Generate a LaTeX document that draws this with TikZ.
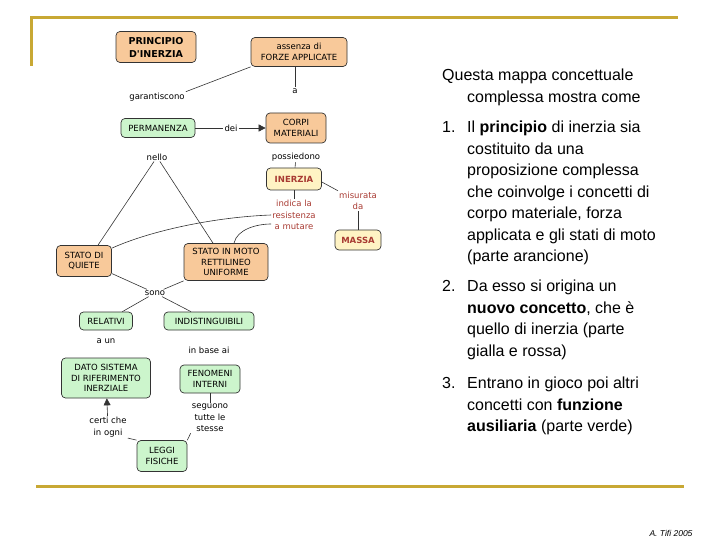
\documentclass[tikz,border=0pt]{standalone}
\usepackage{fontspec}
\setmainfont{Liberation Sans}
\newfontfamily\mapfont{DejaVu Sans}
\usetikzlibrary{arrows.meta}
\definecolor{Gold}{HTML}{C8A834}
\definecolor{Peach}{HTML}{F8C99A}
\definecolor{Mint}{HTML}{CCF5CC}
\definecolor{Cream}{HTML}{FFF3C4}
\definecolor{Edge}{HTML}{333333}
\definecolor{Brick}{HTML}{A83A32}

\begin{document}
\begin{tikzpicture}[x=1pt,y=-1pt,>={Triangle[length=7pt,width=7pt]},
    prinbox/.style={draw=Edge,fill=Peach,line width=.7pt,rounded corners=4pt,align=center,inner sep=1pt,font=\mapfont\fontsize{8.5}{10.5}\selectfont},
    ausbox/.style={prinbox,fill=Mint},
    inbox/.style={prinbox,fill=Cream,text=Brick,font=\mapfont\bfseries\fontsize{8.5}{10}\selectfont},
    link/.style={align=center,inner sep=1pt,font=\mapfont\fontsize{8.5}{11.5}\selectfont},
    wire/.style={draw=Edge,line width=.6pt},
    para/.style={anchor=north west,inner sep=0pt,align=left,font=\fontsize{16}{21.5}\selectfont}]
    \useasboundingbox (0,0) rectangle (720,540);
    \draw[Gold,line width=3pt] (31,66) -- (31,18) -- (678,18);
    \draw[Gold,line width=3pt] (36,486) -- (684,486);
    % parte arancione
    \node[prinbox,minimum width=80,minimum height=31,font=\mapfont\bfseries\fontsize{9.5}{13}\selectfont] (prin) at (156,47) {PRINCIPIO\\D'INERZIA};
    \node[prinbox,minimum width=96,minimum height=29] (forze) at (299,52) {assenza di\\FORZE APPLICATE};
    \node[link] (garant) at (157,97) {garantiscono};
    \node[link] (la) at (295,91) {a};
    \node[ausbox,minimum width=74,minimum height=19] (perm) at (158,128) {PERMANENZA};
    \node[link] (dei) at (231,128) {dei};
    \node[prinbox,minimum width=60,minimum height=30] (corpi) at (296,128) {CORPI\\MATERIALI};
    \node[link] (nello) at (157,157) {nello};
    \node[prinbox,minimum width=55,minimum height=31] (quiete) at (84,261) {STATO DI\\QUIETE};
    \node[prinbox,minimum width=84,minimum height=37] (moto) at (226,262) {STATO IN MOTO\\RETTILINEO\\UNIFORME};
    % parte gialla e rossa
    \node[link] (poss) at (296,157) {possiedono};
    \node[inbox,minimum width=55,minimum height=22] (inerzia) at (294,179) {INERZIA};
    \node[link,text=Brick] (indica) at (294,215) {indica la\\resistenza\\a mutare};
    \node[link,text=Brick] (misur) at (358,201) {misurata\\da};
    \node[inbox,minimum width=46,minimum height=20] (massa) at (358,240) {MASSA};
    % parte verde
    \node[link] (sono) at (155,293) {sono};
    \node[ausbox,minimum width=53,minimum height=18] (relat) at (106,321) {RELATIVI};
    \node[ausbox,minimum width=90,minimum height=18] (indist) at (209,321) {INDISTINGUIBILI};
    \node[link] (aun) at (106,341) {a un};
    \node[link] (base) at (209,350) {in base ai};
    \node[ausbox,minimum width=89,minimum height=40] (dato) at (106,378) {DATO SISTEMA\\DI RIFERIMENTO\\INERZIALE};
    \node[ausbox,minimum width=60,minimum height=28] (fenom) at (210,379) {FENOMENI\\INTERNI};
    \node[link] (segu) at (210,418) {seguono\\tutte le\\stesse};
    \node[link] (certi) at (108,427) {certi che\\in ogni};
    \node[ausbox,minimum width=50,minimum height=31] (leggi) at (162,456) {LEGGI\\FISICHE};
    % collegamenti
    \draw[wire] (forze.south west) -- (garant.north east);
    \draw[wire] (forze.south -| la) -- (la);
    \draw[wire] (perm) -- (dei);
    \draw[wire,->] (dei) -- (corpi);
    \draw[wire] (poss) -- (inerzia);
    \draw[wire] (inerzia) -- (indica);
    \draw[wire] ([yshift=-3pt]inerzia.east) -- (misur.north west);
    \draw[wire] (misur) -- (massa);
    \draw[wire] (nello) -- ([xshift=14pt]quiete.north);
    \draw[wire] (nello) -- ([xshift=-13pt]moto.north);
    \draw[wire] ([yshift=-3pt]quiete.north east) .. controls +(40,-18) and +(-55,2) .. (indica.west);
    \draw[wire] ([xshift=8pt]moto.north) .. controls +(3,-14) and +(-14,0) .. ([yshift=-9pt]indica.west);
    \draw[wire] (quiete) -- (sono);
    \draw[wire] (moto.south west) -- (sono);
    \draw[wire] (sono) -- (relat);
    \draw[wire] (sono) -- (indist);
    \draw[wire] (fenom) -- (segu);
    \draw[wire] (segu.south west) -- (leggi.north east);
    \draw[wire] (leggi.north west) -- (certi.south east);
    \draw[wire,->] (certi) -- (dato);
    % testo a destra
    \node[para] (intro) at (442,69) {Questa mappa concettuale\\\hspace*{25pt}complessa mostra come};
    \node[para] (n1) at (442,121) {1.};
    \node[para] (p1) at (467,121) {Il \textbf{principio} di inerzia sia\\costituito da una\\proposizione complessa\\che coinvolge i concetti di\\corpo materiale, forza\\applicata e gli stati di moto\\(parte arancione)};
    \node[para] (n2) at (442,280) {2.};
    \node[para] (p2) at (467,280) {Da esso si origina un\\\textbf{nuovo concetto}, che è\\quello di inerzia (parte\\gialla e rossa)};
    \node[para] (n3) at (442,377) {3.};
    \node[para] (p3) at (467,377) {Entrano in gioco poi altri\\concetti con \textbf{funzione}\\\textbf{ausiliaria} (parte verde)};
    \node[font=\itshape\fontsize{8.5}{10}\selectfont] (firma) at (671,533) {A. Tifi 2005};
\end{tikzpicture}
\end{document}
